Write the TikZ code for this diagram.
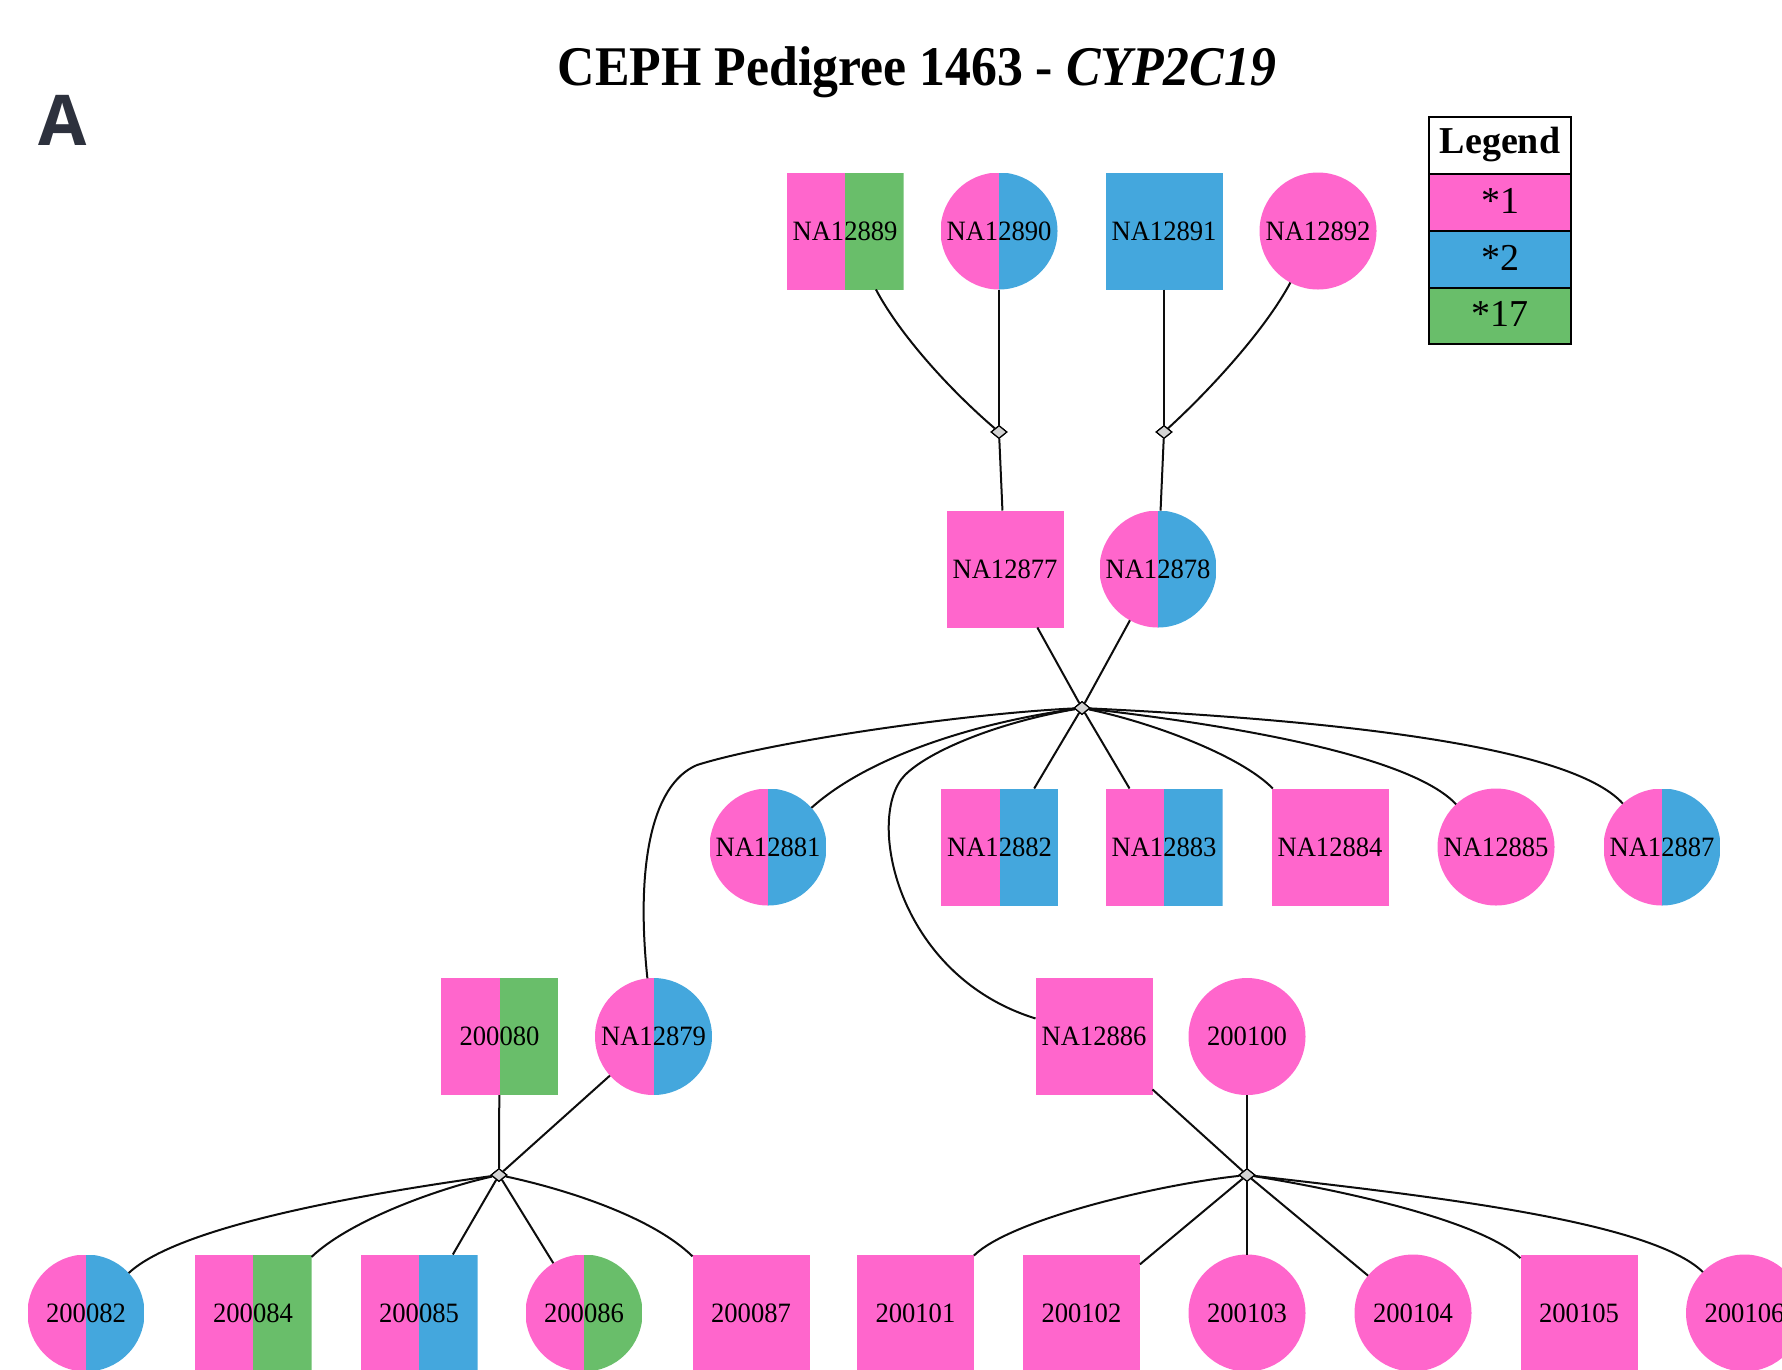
\documentclass[tikz,border=0pt]{standalone}
\usepackage{fontspec}
\setmainfont{Liberation Serif}
\newfontfamily\nodefont[FakeStretch=0.95]{Liberation Serif}
\newfontfamily\titlefont[FakeStretch=0.925]{Liberation Serif}
\newfontfamily\panelfont{Open Sans}
\usetikzlibrary{shapes.geometric}
\definecolor{pk}{HTML}{FF66CC}
\definecolor{bl}{HTML}{44A7DD}
\definecolor{gr}{HTML}{69BE6A}
\definecolor{acol}{HTML}{2D313D}
\definecolor{dgray}{HTML}{D3D3D3}
\tikzset{
  ind/.style={minimum size=117pt, inner sep=0pt, outer sep=0pt,
    font=\nodefont\fontsize{28}{30}\selectfont, text height=18.5pt, text depth=0pt},
  sq/.style={ind, rectangle},
  ci/.style={ind, circle},
  one/.style={fill=#1},
  two/.style={path picture={
      \fill[pk] (path picture bounding box.south west) rectangle (path picture bounding box.north);
      \fill[#1] (path picture bounding box.south) rectangle (path picture bounding box.north east);}},
  mar/.style={diamond, minimum width=16pt, minimum height=13pt, inner sep=0pt,
    draw=black, line width=1.2pt, fill=dgray},
  link/.style={line width=2pt, draw=black!95},
  lgrow/.style={rectangle, draw=black, line width=2pt, minimum width=142pt, minimum height=57pt,
    inner sep=0pt, font=\fontsize{38}{40}\selectfont, text height=25pt, text depth=4pt},
}
\begin{document}
\begin{tikzpicture}[x=1pt,y=-1pt]
\useasboundingbox (0,0) rectangle (1782,1369);

% title and panel letter
\node[anchor=base, inner sep=0pt] (title) at (917,85)
  {\titlefont\fontsize{56}{60}\selectfont\bfseries CEPH Pedigree 1463 - \textit{CYP2C19}};
\node[anchor=base, inner sep=0pt, text=acol] (panel) at (62.5,145)
  {\panelfont\fontsize{70}{70}\selectfont\bfseries A};

% legend
\node[lgrow, fill=white, text depth=10pt] (lg0) at (1500,145.5) {\bfseries Legend};
\node[lgrow, fill=pk] (lg1) at (1500,202.5) {*1};
\node[lgrow, fill=bl] (lg2) at (1500,259.5) {*2};
\node[lgrow, fill=gr, minimum height=56pt] (lg3) at (1500,316) {*17};

% generation 1
\node[sq, two=gr] (n12889) at (845,231) {NA12889};
\node[ci, two=bl] (n12890) at (999,231) {NA12890};
\node[sq, one=bl] (n12891) at (1164,231) {NA12891};
\node[ci, one=pk] (n12892) at (1318,231) {NA12892};
% generation 2
\node[sq, one=pk] (n12877) at (1005,569) {NA12877};
\node[ci, two=bl] (n12878) at (1158,569) {NA12878};
% generation 3
\node[ci, two=bl] (n12881) at (768,847) {NA12881};
\node[sq, two=bl] (n12882) at (999.5,847) {NA12882};
\node[sq, two=bl] (n12883) at (1164,847) {NA12883};
\node[sq, one=pk] (n12884) at (1330,847) {NA12884};
\node[ci, one=pk] (n12885) at (1496,847) {NA12885};
\node[ci, two=bl] (n12887) at (1662,847) {NA12887};
% generation 3 with spouses
\node[sq, two=gr] (n200080) at (499.5,1036.5) {200080};
\node[ci, two=bl] (n12879) at (653.5,1036.5) {NA12879};
\node[sq, one=pk] (n12886) at (1094,1036.5) {NA12886};
\node[ci, one=pk] (n200100) at (1247,1036.5) {200100};
% generation 4
\node[ci, two=bl] (n200082) at (86,1313) {200082};
\node[sq, two=gr] (n200084) at (253,1313) {200084};
\node[sq, two=bl] (n200085) at (419,1313) {200085};
\node[ci, two=gr] (n200086) at (584,1313) {200086};
\node[sq, one=pk] (n200087) at (751,1313) {200087};
\node[sq, one=pk] (n200101) at (915.4,1313) {200101};
\node[sq, one=pk] (n200102) at (1081.4,1313) {200102};
\node[ci, one=pk] (n200103) at (1247,1313) {200103};
\node[ci, one=pk] (n200104) at (1413,1313) {200104};
\node[sq, one=pk] (n200105) at (1579,1313) {200105};
\node[ci, one=pk] (n200106) at (1744.5,1313) {200106};

% marriage nodes
\node[mar] (D1) at (999,432) {};
\node[mar] (D2) at (1164,432) {};
\node[mar] (D3) at (1082,708) {};
\node[mar] (D4L) at (499,1175) {};
\node[mar] (D4R) at (1247,1175) {};

% connectors
\draw[link] (n12889) .. controls (900,335) and (950,390) .. (D1);
\draw[link] (n12890) -- (D1);
\draw[link] (n12891) -- (D2);
\draw[link] (n12892) .. controls (1265,330) and (1210,390) .. (D2);
\draw[link] (D1) -- (n12877);
\draw[link] (D2) -- (n12878);
\draw[link] (n12877) -- (D3);
\draw[link] (n12878) -- (D3);

\draw[link] (D3) .. controls (960,714) and (770,742) .. (697,765)
  .. controls (650,785) and (636,870) .. (n12879);
\draw[link] (D3) .. controls (980,722) and (870,755) .. (n12881);
\draw[link] (D3) .. controls (1000,722) and (930,750) .. (905,775)
  .. controls (865,815) and (895,975) .. (n12886);
\draw[link] (D3) -- (n12882);
\draw[link] (D3) -- (n12883);
\draw[link] (D3) .. controls (1150,722) and (1240,755) .. (n12884);
\draw[link] (D3) .. controls (1230,725) and (1410,755) .. (n12885);
\draw[link] (D3) .. controls (1330,720) and (1570,745) .. (n12887);

\draw[link] (n200080) -- (D4L);
\draw[link] (n12879) -- (D4L);
\draw[link] (D4L) .. controls (370,1193) and (180,1225) .. (n200082);
\draw[link] (D4L) .. controls (440,1188) and (350,1220) .. (n200084);
\draw[link] (D4L) -- (n200085);
\draw[link] (D4L) -- (n200086);
\draw[link] (D4L) .. controls (560,1188) and (650,1215) .. (n200087);

\draw[link] (n12886) -- (D4R);
\draw[link] (n200100) -- (D4R);
\draw[link] (D4R) .. controls (1155,1185) and (1010,1220) .. (n200101);
\draw[link] (D4R) -- (n200102);
\draw[link] (D4R) -- (n200103);
\draw[link] (D4R) -- (n200104);
\draw[link] (D4R) .. controls (1340,1190) and (1480,1220) .. (n200105);
\draw[link] (D4R) .. controls (1420,1195) and (1650,1220) .. (n200106);

% redraw marriage nodes on top
\node[mar] at (D1) {};
\node[mar] at (D2) {};
\node[mar] at (D3) {};
\node[mar] at (D4L) {};
\node[mar] at (D4R) {};
\end{tikzpicture}
\end{document}
